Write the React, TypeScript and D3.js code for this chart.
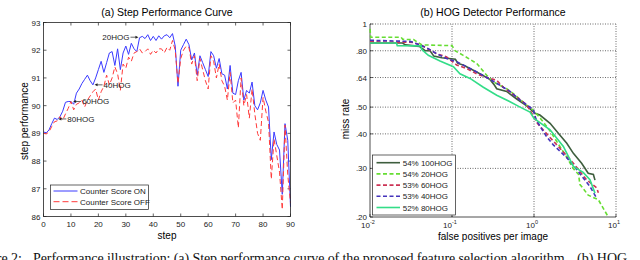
import React, { useRef, useEffect } from 'react';
import * as d3 from 'd3';

// (a) step performance, one value per step 0..90
const scoreOn = [
  89.05, 89.02, 89.12, 89.35, 89.55, 89.5, 89.6, 89.8, 90.12, 90.15,
  90.15, 90.05, 90.45, 90.6, 90.8, 90.95, 91.1, 90.9, 90.75, 91.0,
  91.3, 91.6, 91.2, 91.55, 91.9, 91.95, 91.45, 92.05, 91.3, 91.9,
  92.15, 91.85, 92.25, 92.05, 91.95, 92.45, 92.5, 92.42, 92.56, 92.35,
  92.5, 92.35, 92.52, 92.4, 92.52, 92.56, 92.45, 92.6, 92.15, 90.7,
  92.0, 92.2, 92.4, 92.2, 91.65, 91.9, 91.1, 91.8, 91.55, 91.3,
  91.05, 91.95, 91.8, 91.35, 91.7, 91.15, 91.1, 90.6, 91.45, 90.45,
  90.4, 90.9, 91.2, 90.2, 90.55, 90.45, 90.85, 90.0, 89.85, 90.1,
  90.55, 90.2, 89.95, 88.05, 89.05, 88.6, 88.4, 86.8, 89.35, 88.75,
  86.35,
];
const scoreOff = [
  89.0, 88.98, 89.05, 89.25, 89.42, 89.45, 89.6, 89.48, 89.7, 89.9,
  90.15, 89.85, 90.05, 90.1, 90.2, 89.95, 90.2, 90.35, 90.5, 90.6,
  90.2, 90.5, 90.7, 91.1, 90.75, 91.0, 91.4, 91.15, 90.55, 91.5,
  91.35, 91.75, 91.6, 91.9, 91.95, 92.05, 91.9, 91.95, 92.05, 91.85,
  92.0, 91.9, 92.05, 92.05, 91.9, 92.1, 92.0, 92.35, 92.0, 90.8,
  91.7, 92.0, 92.15, 92.1, 91.5, 91.8, 90.9, 91.7, 91.3, 90.9,
  90.6, 91.8, 91.6, 91.0, 91.5, 90.9, 90.7, 90.2, 91.2, 90.1,
  90.2, 89.2, 91.0, 90.0, 90.4, 89.55, 90.6, 89.7, 89.0, 88.75,
  90.3, 89.8, 89.4, 87.35, 88.8, 88.2, 87.6, 86.25, 89.3, 87.5,
  86.5,
];
const stepTicks = [0, 10, 20, 30, 40, 50, 60, 70, 80, 90];
const perfTicks = [86, 87, 88, 89, 90, 91, 92, 93];
const stepSeries = ['Counter Score ON', 'Counter Score OFF'];
const marks = [
  { label: '20HOG', step: 34.6, value: 92.47, side: 'left' },
  { label: '40HOG', step: 18.6, value: 90.75, side: 'right' },
  { label: '60HOG', step: 10.8, value: 90.15, side: 'right' },
  { label: '80HOG', step: 5.4, value: 89.52, side: 'right' },
];

// (b) miss rate vs false positives per image, [fppi, miss rate]
const hog100: [number, number][] = [
  [0.01, 0.853], [0.025, 0.853], [0.027, 0.84], [0.04, 0.83], [0.047, 0.8],
  [0.054, 0.8], [0.06, 0.765], [0.075, 0.755], [0.11, 0.745], [0.118, 0.72],
  [0.137, 0.71], [0.2, 0.67], [0.29, 0.63], [0.33, 0.6], [0.351, 0.583],
  [0.464, 0.57], [0.615, 0.535], [0.815, 0.505], [1.03, 0.475], [1.18, 0.468],
  [1.57, 0.437], [1.98, 0.402], [2.51, 0.37], [3.02, 0.34], [3.81, 0.313],
  [4.58, 0.288], [5.3, 0.285], [5.54, 0.272],
];
const hog20: [number, number][] = [
  [0.01, 0.96], [0.0102, 0.895], [0.024, 0.895], [0.025, 0.88], [0.034, 0.878],
  [0.043, 0.84], [0.1, 0.835], [0.109, 0.8], [0.137, 0.77], [0.2, 0.72],
  [0.265, 0.652], [0.319, 0.617], [0.464, 0.583], [0.56, 0.56], [0.815, 0.508],
  [0.98, 0.487], [1.2, 0.455], [1.57, 0.41], [2.07, 0.36], [2.5, 0.33],
  [3.0, 0.3], [3.5, 0.285], [3.63, 0.262], [3.81, 0.258], [4.58, 0.24],
  [6.09, 0.231], [6.69, 0.22], [8.06, 0.2],
];
const hog60: [number, number][] = [
  [0.01, 0.862], [0.0338, 0.858], [0.0447, 0.83], [0.065, 0.78], [0.086, 0.76],
  [0.114, 0.71], [0.151, 0.69], [0.2, 0.66], [0.265, 0.64], [0.351, 0.625],
  [0.423, 0.59], [0.56, 0.555], [0.815, 0.51], [1.0, 0.46], [1.1, 0.437],
  [1.43, 0.4], [2.07, 0.355], [3.02, 0.313], [4.37, 0.273], [5.8, 0.255], [6.09, 0.245],
];
const hog40: [number, number][] = [
  [0.01, 0.873], [0.0308, 0.865], [0.0407, 0.84], [0.0514, 0.814], [0.065, 0.78],
  [0.086, 0.75], [0.114, 0.73], [0.151, 0.7], [0.2, 0.67], [0.265, 0.64],
  [0.385, 0.6], [0.51, 0.57], [0.676, 0.53], [0.98, 0.49], [1.05, 0.455],
  [1.18, 0.427], [1.43, 0.39], [1.72, 0.365], [2.51, 0.328], [3.31, 0.297],
  [4.81, 0.258], [5.81, 0.234],
];
const hog80: [number, number][] = [
  [0.01, 0.853], [0.021, 0.853], [0.0215, 0.835], [0.042, 0.833], [0.0426, 0.81],
  [0.0514, 0.77], [0.0714, 0.735], [0.104, 0.7], [0.125, 0.66], [0.166, 0.635],
  [0.241, 0.59], [0.351, 0.552], [0.51, 0.523], [0.676, 0.5], [0.894, 0.48],
  [1.0, 0.455], [1.57, 0.414], [2.28, 0.36], [3.02, 0.305], [3.98, 0.29],
  [4.81, 0.273], [5.54, 0.244],
];
const detectors = ['54% 100HOG', '54% 20HOG', '53% 60HOG', '53% 40HOG', '52% 80HOG'];
const missTicks = [0.2, 0.3, 0.4, 0.5, 0.64, 0.8, 1];
const missLabels = ['.20', '.30', '.40', '.50', '.64', '.80', '1'];
const fppiTicks = [0.01, 0.1, 1, 10];
const fppiExp = ['-2', '-1', '0', '1'];

const FONT = 'Arial, "Liberation Sans", sans-serif';

const Chart = () => {
  const ref = useRef<SVGSVGElement>(null);

  useEffect(() => {
    if (!ref.current) return;
    const svg = d3.select(ref.current);
    svg.selectAll('*').remove();
    svg.attr('width', 640).attr('height', 260);
    svg.append('rect').attr('width', 640).attr('height', 260).attr('fill', 'white');

    // ---------- (a) step performance ----------
    const xA = d3.scaleLinear().domain([0, 90]).range([43.5, 290.5]);
    const yA = d3.scaleLinear().domain([86, 93]).range([216.5, 22.5]);
    const gA = svg.append('g');

    gA.append('text')
      .text('(a) Step Performance Curve')
      .attr('x', (xA(0) + xA(90)) / 2)
      .attr('y', 16)
      .attr('text-anchor', 'middle')
      .attr('font-size', '10.5px')
      .style('font-family', FONT);

    // tick marks inward on all sides
    stepTicks.forEach((t) => {
      gA.append('line').attr('x1', xA(t)).attr('x2', xA(t)).attr('y1', yA(86)).attr('y2', yA(86) - 3).attr('stroke', '#222').attr('stroke-width', 0.7);
      gA.append('line').attr('x1', xA(t)).attr('x2', xA(t)).attr('y1', yA(93)).attr('y2', yA(93) + 3).attr('stroke', '#222').attr('stroke-width', 0.7);
      gA.append('text').text(t).attr('x', xA(t)).attr('y', 227).attr('text-anchor', 'middle')
        .attr('font-size', '8px').attr('fill', '#222').style('font-family', FONT);
    });
    perfTicks.forEach((t) => {
      gA.append('line').attr('x1', xA(0)).attr('x2', xA(0) + 3).attr('y1', yA(t)).attr('y2', yA(t)).attr('stroke', '#222').attr('stroke-width', 0.7);
      gA.append('line').attr('x1', xA(90)).attr('x2', xA(90) - 3).attr('y1', yA(t)).attr('y2', yA(t)).attr('stroke', '#222').attr('stroke-width', 0.7);
      gA.append('text').text(t).attr('x', xA(0) - 3).attr('y', yA(t) + 3).attr('text-anchor', 'end')
        .attr('font-size', '8px').attr('fill', '#222').style('font-family', FONT);
    });

    const lineA = d3.line<number>().x((_, i) => xA(i)).y((d) => yA(d));
    gA.append('path').attr('d', lineA(scoreOn)).attr('fill', 'none').attr('stroke', '#3a3aff').attr('stroke-width', 1);
    gA.append('path').attr('d', lineA(scoreOff)).attr('fill', 'none').attr('stroke', '#ff3a3a').attr('stroke-width', 1).attr('stroke-dasharray', '5,3');

    gA.append('rect')
      .attr('x', xA(0)).attr('y', yA(93))
      .attr('width', xA(90) - xA(0)).attr('height', yA(86) - yA(93))
      .attr('fill', 'none').attr('stroke', '#222').attr('stroke-width', 0.8);

    // annotations with arrows
    marks.forEach((m) => {
      const px = xA(m.step);
      const py = yA(m.value);
      const dir = m.side === 'left' ? -1 : 1;
      gA.append('line').attr('x1', px + dir * 8).attr('x2', px + dir * 2).attr('y1', py).attr('y2', py).attr('stroke', '#222').attr('stroke-width', 0.7);
      gA.append('path')
        .attr('d', `M${px},${py} L${px + dir * 3},${py - 1.5} L${px + dir * 3},${py + 1.5} Z`)
        .attr('fill', '#222');
      gA.append('text').text(m.label)
        .attr('x', px + dir * 9).attr('y', py + 3)
        .attr('text-anchor', dir < 0 ? 'end' : 'start')
        .attr('font-size', '8px').attr('fill', '#222').style('font-family', FONT);
    });

    // legend
    const legA = gA.append('g');
    legA.append('rect').attr('x', 50.5).attr('y', 185).attr('width', 98).attr('height', 24.5)
      .attr('fill', 'white').attr('stroke', '#222').attr('stroke-width', 0.7);
    stepSeries.forEach((s, i) => {
      const yy = 191 + i * 10.7;
      legA.append('line').attr('x1', 53.5).attr('x2', 77.5).attr('y1', yy).attr('y2', yy)
        .attr('stroke', i === 0 ? '#3a3aff' : '#ff3a3a').attr('stroke-width', 1)
        .attr('stroke-dasharray', i === 0 ? null : '6,3');
      legA.append('text').text(s).attr('x', 80).attr('y', yy + 3)
        .attr('font-size', '8px').attr('fill', '#222').style('font-family', FONT);
    });

    gA.append('text').text('step').attr('x', (xA(0) + xA(90)) / 2).attr('y', 239)
      .attr('text-anchor', 'middle').attr('font-size', '10px').style('font-family', FONT);
    gA.append('text').text('step performance')
      .attr('transform', 'translate(27.5,121) rotate(-90)')
      .attr('text-anchor', 'middle').attr('font-size', '10px').style('font-family', FONT);

    // ---------- (b) HOG detector performance ----------
    const xB = d3.scaleLog().domain([0.01, 10]).range([370, 616]);
    const yB = d3.scaleLog().domain([0.2, 1]).range([217, 24]);
    const gB = svg.append('g');

    gB.append('text')
      .text('(b) HOG Detector Performance')
      .attr('x', (xB(0.01) + xB(10)) / 2)
      .attr('y', 16)
      .attr('text-anchor', 'middle')
      .attr('font-size', '10.5px')
      .style('font-family', FONT);

    fppiTicks.slice(1).forEach((t) => {
      gB.append('line').attr('x1', xB(t)).attr('x2', xB(t)).attr('y1', yB(0.2)).attr('y2', yB(1))
        .attr('stroke', '#444').attr('stroke-width', 0.8).attr('stroke-dasharray', '1,1.5');
    });
    missTicks.slice(1).forEach((t) => {
      gB.append('line').attr('x1', xB(0.01)).attr('x2', xB(10)).attr('y1', yB(t)).attr('y2', yB(t))
        .attr('stroke', '#444').attr('stroke-width', 0.8).attr('stroke-dasharray', '1,1.5');
    });

    missTicks.forEach((t, i) => {
      gB.append('line').attr('x1', xB(0.01)).attr('x2', xB(0.01) + 3).attr('y1', yB(t)).attr('y2', yB(t)).attr('stroke', '#222').attr('stroke-width', 0.7);
      gB.append('text').text(missLabels[i]).attr('x', xB(0.01) - 3).attr('y', yB(t) + 3)
        .attr('text-anchor', 'end').attr('font-size', '8px').attr('fill', '#222').style('font-family', FONT);
    });
    fppiTicks.forEach((t, i) => {
      gB.append('line').attr('x1', xB(t)).attr('x2', xB(t)).attr('y1', yB(0.2)).attr('y2', yB(0.2) - 3).attr('stroke', '#222').attr('stroke-width', 0.7);
      const tx = gB.append('text').attr('x', xB(t) - 2).attr('y', 228)
        .attr('text-anchor', 'middle').attr('font-size', '8px').attr('fill', '#222').style('font-family', FONT);
      tx.append('tspan').text('10');
      tx.append('tspan').text(fppiExp[i]).attr('font-size', '5.5px').attr('dy', -4);
    });

    gB.append('line').attr('x1', xB(0.01)).attr('x2', xB(0.01)).attr('y1', yB(0.2)).attr('y2', yB(1)).attr('stroke', '#222').attr('stroke-width', 0.8);
    gB.append('line').attr('x1', xB(0.01)).attr('x2', xB(10)).attr('y1', yB(0.2)).attr('y2', yB(0.2)).attr('stroke', '#222').attr('stroke-width', 0.8);

    const curves = [
      { data: hog100, color: '#3e5e3e', dash: null },
      { data: hog20, color: '#66dd33', dash: '4,2.5' },
      { data: hog60, color: '#cc3355', dash: '4,2.5' },
      { data: hog40, color: '#4433bb', dash: '4,2.5' },
      { data: hog80, color: '#33dd88', dash: null },
    ];
    const lineB = d3.line<[number, number]>()
      .x((d) => xB(d[0]))
      .y((d) => yB(d[1]));
    curves.forEach((c) => {
      gB.append('path').attr('d', lineB(c.data)).attr('fill', 'none')
        .attr('stroke', c.color).attr('stroke-width', 1.6)
        .attr('stroke-dasharray', c.dash);
    });

    const legB = gB.append('g');
    legB.append('rect').attr('x', 372.5).attr('y', 155).attr('width', 83).attr('height', 60)
      .attr('fill', 'white').attr('stroke', '#222').attr('stroke-width', 0.7);
    detectors.forEach((d, i) => {
      const yy = 162.7 + i * 11.2;
      legB.append('line').attr('x1', 376.5).attr('x2', 400).attr('y1', yy).attr('y2', yy)
        .attr('stroke', curves[i].color).attr('stroke-width', 1.6)
        .attr('stroke-dasharray', curves[i].dash);
      legB.append('text').text(d).attr('x', 402.7).attr('y', yy + 3)
        .attr('font-size', '8px').attr('fill', '#222').style('font-family', FONT);
    });

    gB.append('text').text('false positives per image').attr('x', (xB(0.01) + xB(10)) / 2).attr('y', 240)
      .attr('text-anchor', 'middle').attr('font-size', '10px').style('font-family', FONT);
    gB.append('text').text('miss rate')
      .attr('transform', 'translate(348.5,119) rotate(-90)')
      .attr('text-anchor', 'middle').attr('font-size', '10px').style('font-family', FONT);

    // figure caption, partly below the bottom edge as in the scan
    const cap = svg.append('g').style('font-family', '"Liberation Serif", "Times New Roman", serif').attr('font-size', '14px').attr('fill', '#111');
    cap.append('text').text('Figure 2:').attr('x', 22).attr('y', 262.5).attr('text-anchor', 'end');
    cap.append('text').text('Performance illustration:  (a) Step performance curve of the proposed feature selection algorithm.')
      .attr('x', 33).attr('y', 262.5).attr('textLength', 535).attr('lengthAdjust', 'spacing');
    cap.append('text').text('(b) HOG').attr('x', 577).attr('y', 262.5);
  }, []);

  return <svg ref={ref} style={{ position: 'absolute', left: 0, top: 0, display: 'block' }} />;
};

export default function App() {
  return <Chart />;
}
